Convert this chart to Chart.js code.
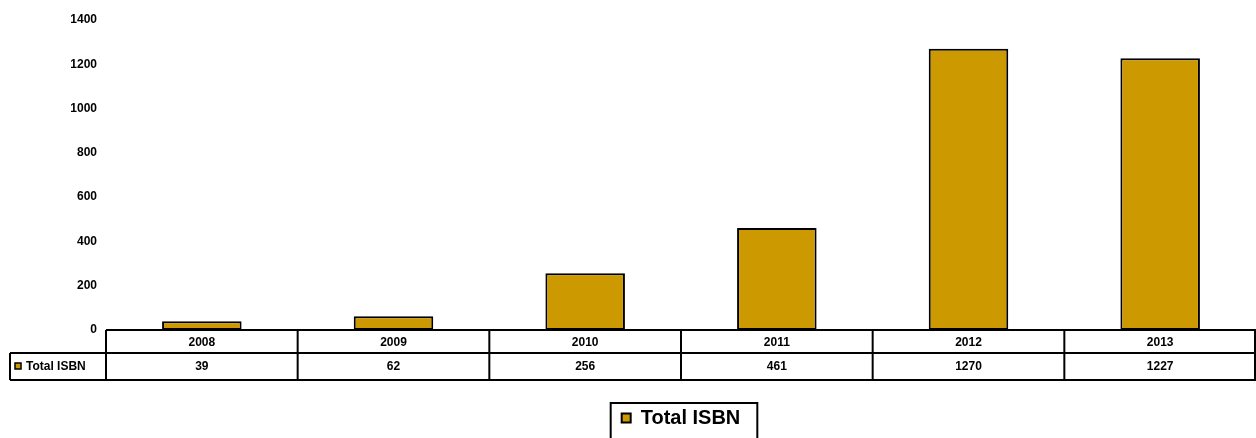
<!DOCTYPE html>
<html>
<head>
<meta charset="utf-8">
<script src="https://cdn.jsdelivr.net/npm/chart.js@4"></script>
<style>
  html, body { margin: 0; padding: 0; background: #fff; }
  #wrap { width: 1256px; height: 438px; }
</style>
</head>
<body>
<div id="wrap"><canvas id="isbnChart" width="1256" height="438"></canvas></div>
<script>
// values
const years = ['2008', '2009', '2010', '2011', '2012', '2013'];
const totalIsbn = [39, 62, 256, 461, 1270, 1227];
const seriesName = 'Total ISBN';
const barColor = '#CC9900';

const FONT = 'Liberation Sans, Arial, sans-serif';

// draws the data table under the plot and a frame round the legend
const tablePlugin = {
    id: 'dataTable',
    afterDraw(chart) {
        const ctx = chart.ctx;
        const area = chart.chartArea;
        const x = chart.scales.x;
        const row1 = area.bottom;
        const row2 = row1 + 23;
        const row3 = row2 + 27;
        const labelLeft = 10;
        const step = (area.right - area.left) / years.length;

        ctx.save();
        ctx.strokeStyle = '#000';
        ctx.lineWidth = 2;
        ctx.beginPath();
        ctx.moveTo(area.left, row1); ctx.lineTo(area.right, row1);
        ctx.moveTo(labelLeft, row2); ctx.lineTo(area.right, row2);
        ctx.moveTo(labelLeft, row3); ctx.lineTo(area.right, row3);
        ctx.moveTo(labelLeft, row2); ctx.lineTo(labelLeft, row3);
        for (let i = 0; i <= years.length; i++) {
            const px = Math.min(area.left + i * step, area.right - 1);
            ctx.moveTo(px, row1); ctx.lineTo(px, row3);
        }
        ctx.stroke();

        ctx.fillStyle = '#000';
        ctx.font = 'bold 12px ' + FONT;
        ctx.textAlign = 'center';
        ctx.textBaseline = 'middle';
        years.forEach((y, i) => {
            const cx = x.getPixelForValue(i);
            ctx.fillText(y, cx, (row1 + row2) / 2 + 1);
            ctx.fillText(String(totalIsbn[i]), cx, (row2 + row3) / 2);
        });

        // series key in the table
        ctx.fillStyle = barColor;
        ctx.fillRect(15, 363, 6, 6);
        ctx.lineWidth = 1.5;
        ctx.strokeRect(15, 363, 6, 6);
        ctx.fillStyle = '#000';
        ctx.textAlign = 'left';
        ctx.fillText(seriesName, 26, (row2 + row3) / 2);

        // frame round the legend
        const hb = chart.legend.legendHitBoxes[0];
        if (hb) {
            ctx.lineWidth = 2;
            ctx.strokeRect(hb.left - 11, hb.top - 5, hb.width + 28, hb.height + 40);
        }
        ctx.restore();
    }
};

new Chart(document.getElementById('isbnChart'), {
    type: 'bar',
    data: {
        labels: years,
        datasets: [{
            label: seriesName,
            data: totalIsbn,
            backgroundColor: barColor,
            borderColor: '#000',
            borderWidth: 2,
            borderSkipped: false,
            categoryPercentage: 1,
            barPercentage: 0.415
        }]
    },
    options: {
        responsive: false,
        animation: false,
        devicePixelRatio: 1,
        layout: { padding: { top: 20, right: 0, left: 0, bottom: 0 } },
        scales: {
            x: {
                grid: { display: false },
                border: { display: false },
                ticks: { display: false },
                afterFit(scale) { scale.height = 72; }
            },
            y: {
                min: 0,
                max: 1400,
                grid: { display: false },
                border: { display: false },
                ticks: {
                    stepSize: 200,
                    padding: 1,
                    color: '#000',
                    font: { family: FONT, size: 12, weight: 'bold' },
                    callback: v => String(v)
                },
                afterFit(scale) { scale.width = 106; }
            }
        },
        plugins: {
            tooltip: { enabled: false },
            legend: {
                position: 'bottom',
                fullSize: false,
                labels: {
                    color: '#000',
                    boxWidth: 9,
                    boxHeight: 9,
                    padding: 6,
                    font: { family: FONT, size: 20, weight: 'bold' },
                    generateLabels() {
                        return [{
                            text: seriesName,
                            fillStyle: barColor,
                            strokeStyle: '#000',
                            lineWidth: 2,
                            datasetIndex: 0
                        }];
                    }
                }
            }
        }
    },
    plugins: [tablePlugin]
});
</script>
</body>
</html>
